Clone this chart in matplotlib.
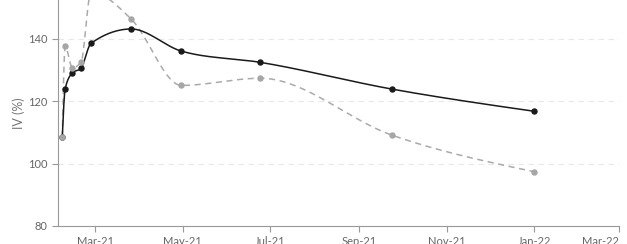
import numpy as np
import matplotlib
matplotlib.use("Agg")
import matplotlib.pyplot as plt
import matplotlib.dates as mdates
import pandas as pd

# observation dates and IV values for the two series
dates = ["2021-02-06", "2021-02-08", "2021-02-13", "2021-02-19", "2021-02-26",
         "2021-03-26", "2021-04-30", "2021-06-24", "2021-09-24", "2022-01-01"]
iv_black = [108.6, 124.0, 129.1, 130.6, 138.6, 143.2, 136.1, 132.5, 123.9, 116.8]
iv_grey = [108.6, 137.7, 130.8, 132.5, 155.0, 146.4, 125.1, 127.4, 109.1, 97.4]
tick_dates = ["2021-03-01", "2021-05-01", "2021-07-01", "2021-09-01",
              "2021-11-01", "2022-01-01", "2022-03-01"]


def monotone_curve(x, y, n=40):
    # monotone cubic interpolation (like d3 curveMonotoneX), only for drawing
    x = np.asarray(x, float)
    y = np.asarray(y, float)
    h = np.diff(x)
    s = np.diff(y) / h
    m = np.zeros_like(y)
    for i in range(1, len(x) - 1):
        p = (s[i - 1] * h[i] + s[i] * h[i - 1]) / (h[i - 1] + h[i])
        m[i] = (np.sign(s[i - 1]) + np.sign(s[i])) * min(abs(s[i - 1]), abs(s[i]), 0.5 * abs(p))
    m[0] = (3 * s[0] - m[1]) / 2
    m[-1] = (3 * s[-1] - m[-2]) / 2
    xs, ys = [], []
    for i in range(len(x) - 1):
        t = np.linspace(0, 1, n)
        h00 = 2 * t**3 - 3 * t**2 + 1
        h10 = t**3 - 2 * t**2 + t
        h01 = -2 * t**3 + 3 * t**2
        h11 = t**3 - t**2
        xs.append(x[i] + t * h[i])
        ys.append(h00 * y[i] + h10 * h[i] * m[i] + h01 * y[i + 1] + h11 * h[i] * m[i + 1])
    return np.concatenate(xs), np.concatenate(ys)


plt.rcParams['font.family'] = ['Lato', 'DejaVu Sans']

xd = mdates.date2num(pd.to_datetime(dates))

fig = plt.figure(figsize=(6.27, 2.44), dpi=100)
ax = fig.add_axes([58 / 627, 18 / 244, 561 / 627, 226 / 244])

bx, by = monotone_curve(xd, iv_black)
ax.plot(bx, by, color='#1a1a1a', lw=1.1, zorder=3)
ax.plot(xd, iv_black, 'o', color='#1a1a1a', ms=3.6, zorder=4)

gx, gy = monotone_curve(xd, iv_grey)
ax.plot(gx, gy, color='#aaaaaa', lw=1.1, ls=(0, (4, 3)), zorder=2)
ax.plot(xd, iv_grey, 'o', color='#a6a6a6', ms=3.6, zorder=5)

ax.set_xlim(mdates.date2num(pd.Timestamp("2021-02-03")), mdates.date2num(pd.Timestamp("2022-03-01")))
ax.set_ylim(80, 152.5)
ax.set_yticks([80, 100, 120, 140])
ax.set_xticks(mdates.date2num(pd.to_datetime(tick_dates)))
ax.xaxis.set_major_formatter(mdates.DateFormatter('%b-%y'))

for y in [100, 120, 140]:
    ax.axhline(y, color='#e8e8e8', lw=0.8, ls=(0, (5, 4)), zorder=1)

for side in ['top', 'right']:
    ax.spines[side].set_visible(False)
for side in ['left', 'bottom']:
    ax.spines[side].set_color('#999999')
    ax.spines[side].set_linewidth(0.8)
ax.tick_params(colors='#999999', labelcolor='#666666', labelsize=8, length=4, width=0.8)
ax.tick_params(axis='x', pad=3)
ax.set_ylabel('IV (%)', color='#777777', fontsize=9, labelpad=2)

# keep the last date label inside the figure
ax.get_xticklabels()[-1].set_horizontalalignment('right')
ax.get_xticklabels()[-1].set_x(ax.get_xticks()[-1])

fig.savefig('out.png', dpi=100)
